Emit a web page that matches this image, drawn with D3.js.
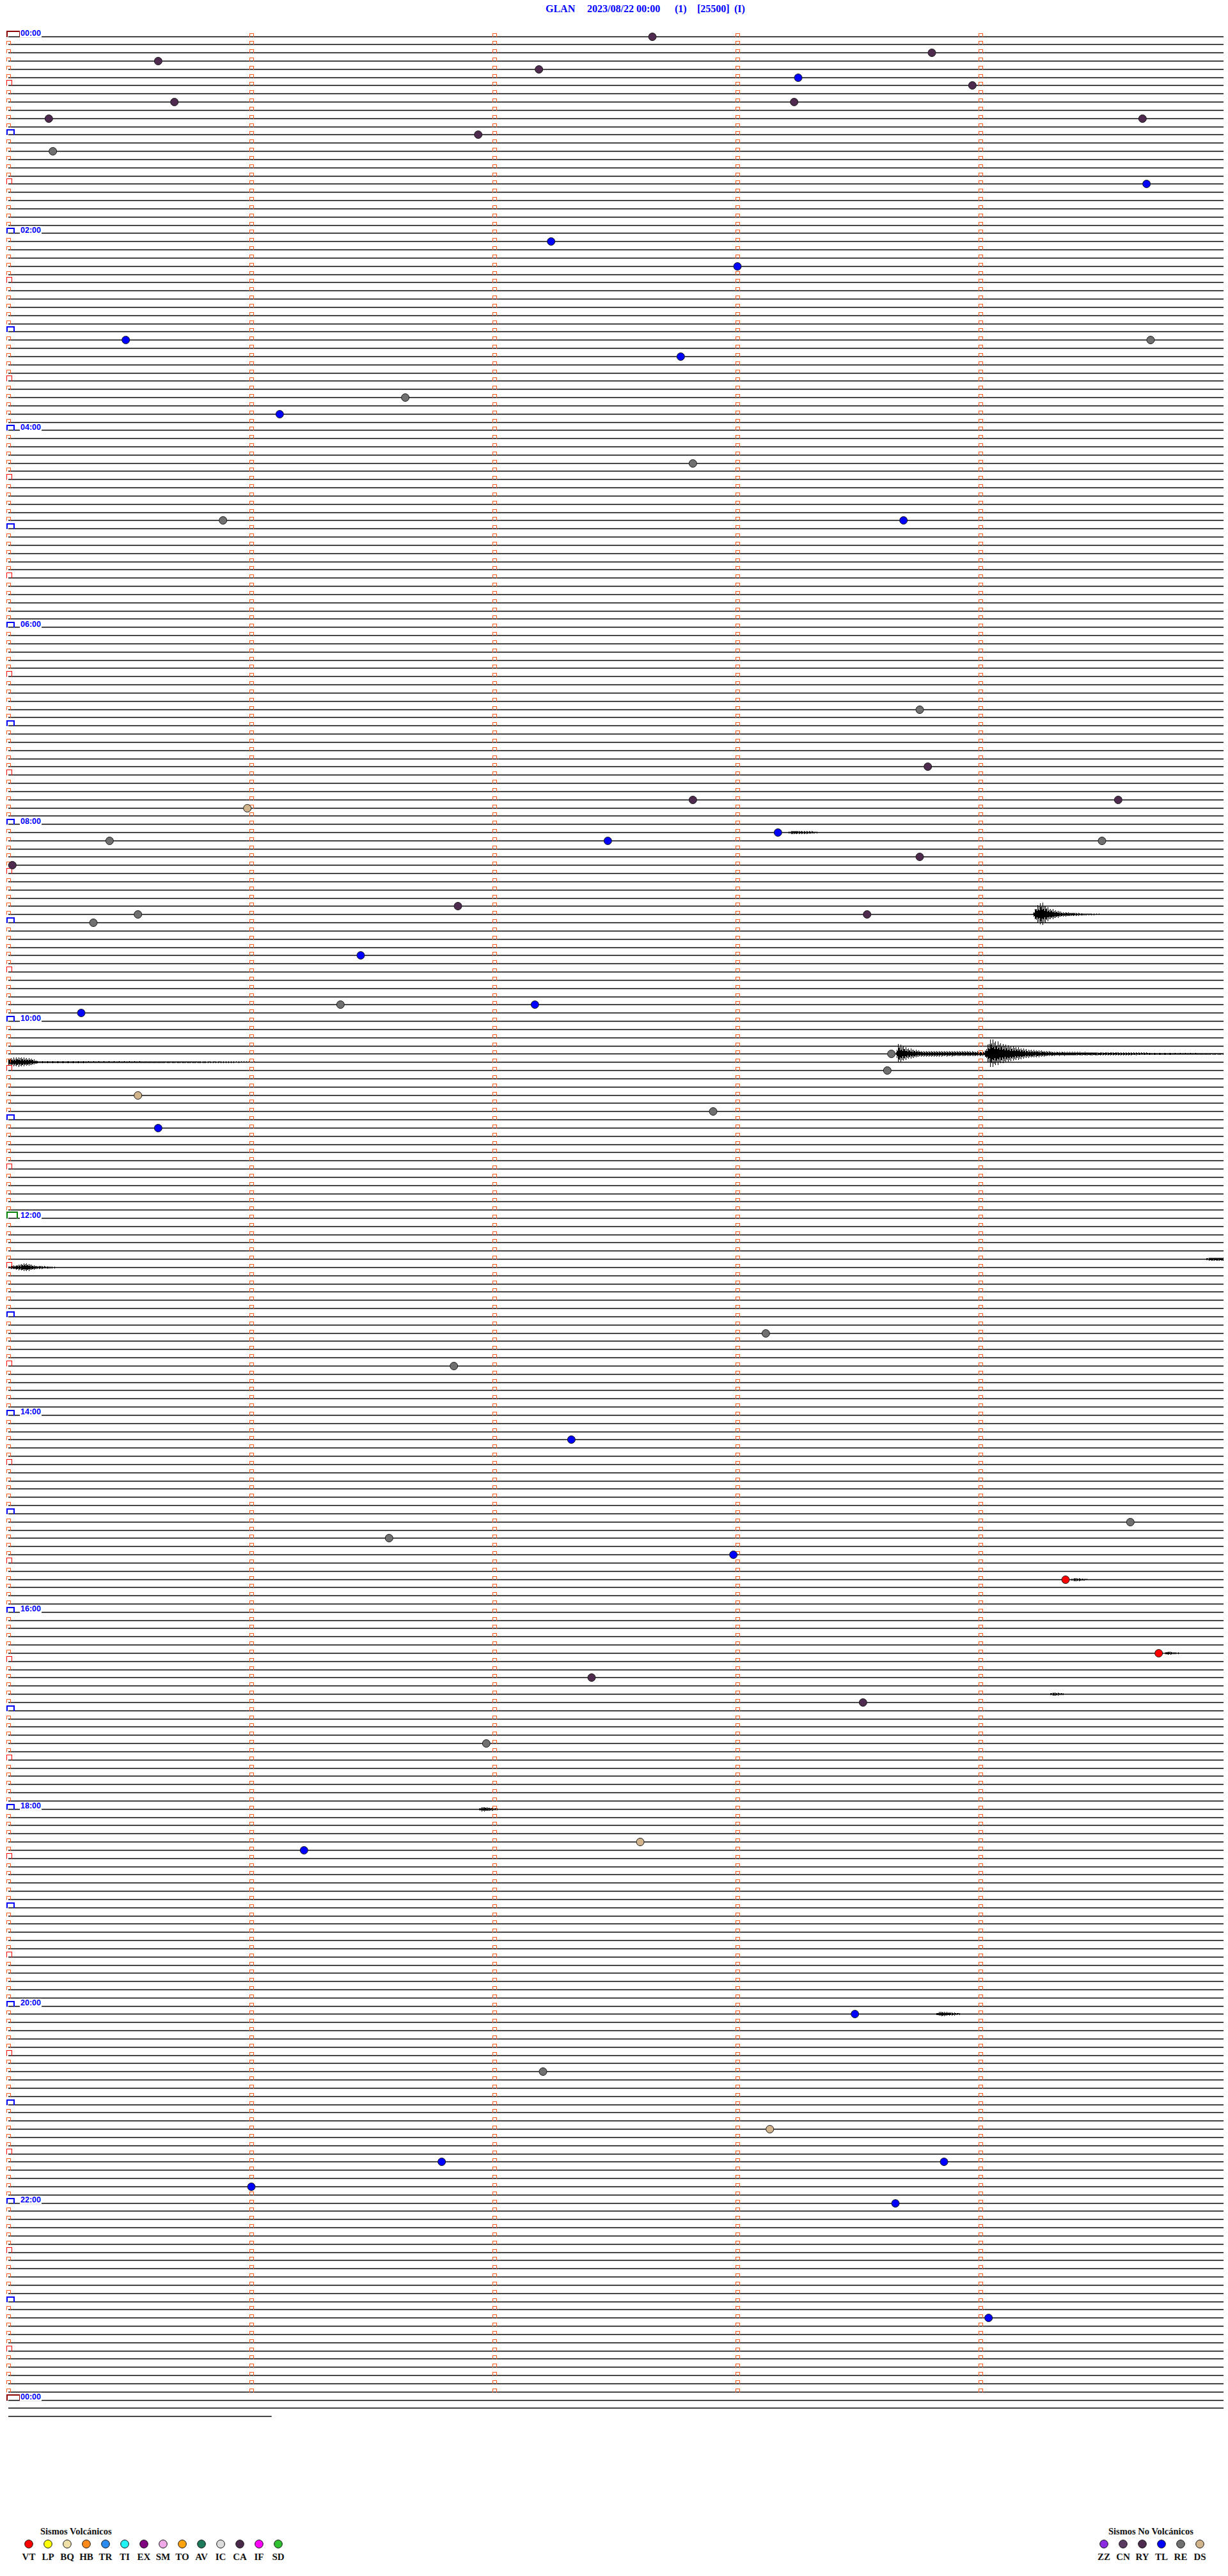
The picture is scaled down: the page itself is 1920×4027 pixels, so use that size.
<!DOCTYPE html>
<html>
<head>
<meta charset="utf-8">
<script src="https://cdn.jsdelivr.net/npm/d3@7"></script>
<style>
  body { margin: 0; background: #fff; }
  svg { display: block; }
</style>
</head>
<body>
<script>
// header
const STATION = 'GLAN';
const DATE_LABEL = '2023/08/22 00:00';
const HEADER_PARTS = ['(1)', '[25500]', '(I)'];

// helicorder: 5-minute rows over 24 h
const ROW_SECONDS = 300;
const ROWS = 288;
const hourLabels = ['00:00', '02:00', '04:00', '06:00', '08:00', '10:00', '12:00',
                    '14:00', '16:00', '18:00', '20:00', '22:00', '00:00'];

// classified events [time, type]
const events = [
  ['00:02:39', 'RY'], ['00:15:37', 'RY'], ['00:13:48', 'RY'], ['00:22:11', 'RY'],
  ['00:28:15', 'TL'], ['00:33:58', 'RY'], ['00:40:41', 'RY'], ['00:43:14', 'RY'],
  ['00:50:10', 'RY'], ['00:54:40', 'RY'], ['01:01:56', 'RY'], ['01:10:11', 'RE'],
  ['01:34:41', 'TL'], ['02:07:14', 'TL'], ['02:23:00', 'TL'], ['03:05:29', 'TL'],
  ['03:09:42', 'RE'], ['03:17:46', 'TL'], ['03:41:38', 'RE'], ['03:51:07', 'TL'],
  ['04:22:49', 'RE'], ['04:55:53', 'RE'], ['04:58:41', 'TL'], ['06:53:45', 'RE'],
  ['07:28:47', 'RY'], ['07:47:49', 'RY'], ['07:49:34', 'RY'], ['07:50:59', 'DS'],
  ['08:10:25', 'RE'], ['08:12:28', 'TL'], ['08:08:10', 'TL'], ['08:14:30', 'RE'],
  ['08:23:45', 'RY'], ['08:25:01', 'RY'], ['08:51:51', 'RY'], ['08:55:32', 'RE'],
  ['08:58:32', 'RY'], ['09:00:21', 'RE'], ['09:21:27', 'TL'], ['09:51:22', 'RE'],
  ['09:52:10', 'TL'], ['09:55:18', 'TL'], ['10:23:38', 'RE'], ['10:33:37', 'RE'],
  ['10:45:32', 'DS'], ['10:57:54', 'RE'], ['11:05:37', 'TL'], ['13:13:07', 'RE'],
  ['13:31:50', 'RE'], ['14:17:19', 'TL'], ['15:09:37', 'RE'], ['15:16:34', 'RE'],
  ['15:27:59', 'TL'], ['15:44:21', 'VT'], ['16:29:44', 'VT'], ['16:42:24', 'RY'],
  ['16:58:31', 'RY'], ['17:21:58', 'RE'], ['18:26:13', 'TL'], ['18:22:36', 'DS'],
  ['20:08:29', 'TL'], ['20:42:12', 'RE'], ['21:18:08', 'DS'], ['21:38:51', 'TL'],
  ['21:36:47', 'TL'], ['21:51:00', 'TL'], ['22:03:39', 'TL'], ['23:14:02', 'TL']
];

// wave packets: row, [seconds into row, half amplitude px]
const bursts = [
  [97,  [[192, 0], [193.5, 3], [198.5, 2], [201.5, 0]]],
  [107, [[252.8, 0], [253.6, 12], [255, 20], [256.8, 10], [260, 4], [266, 1.5], [276, 0]]],
  [124, [[219, 0], [219.6, 16], [222, 9], [225.3, 5], [241, 4], [242.4, 24], [245.4, 16],
         [251.6, 7], [258.5, 3.5], [282, 2], [300, 1.5]]],
  [125, [[0, 6], [2.5, 8], [5.4, 6], [7.4, 2], [45, 1.5], [92, 0]]],
  [149, [[294.5, 0], [296.5, 3], [300, 3]]],
  [150, [[0, 2], [1.9, 4], [4.3, 7], [6.6, 3], [12, 1], [21, 0]]],
  [188, [[261.8, 0], [263.3, 3], [266.4, 1], [268, 0]]],
  [197, [[285, 0], [286, 3], [289, 1], [291, 0]]],
  [202, [[256.5, 0], [258, 3], [261, 1], [263, 0]]],
  [216, [[115.5, 0], [117, 4], [120, 2], [122, 0]]],
  [241, [[228.5, 0], [230, 4], [234, 2], [236, 0]]]
];

// legend
const volcanicTypes  = ['VT', 'LP', 'BQ', 'HB', 'TR', 'TI', 'EX', 'SM', 'TO', 'AV', 'IC', 'CA', 'IF', 'SD'];
const volcanicColors = ['#ff0000', '#ffff00', '#efe0a8', '#ff8a1c', '#2a8cf0', '#20f4f4', '#800080',
                        '#f0a8e8', '#ffa20c', '#1c7a5a', '#dcdcdc', '#4a2a4a', '#ff00ff', '#30c030'];
const otherTypes  = ['ZZ', 'CN', 'RY', 'TL', 'RE', 'DS'];
const otherColors = ['#8a2be2', '#5a3a60', '#4e2a4e', '#0000ff', '#707070', '#d2b48c'];

const W = 1920, H = 4027;
const svg = d3.select('body').append('svg').attr('width', W).attr('height', H);
svg.append('rect').attr('width', W).attr('height', H).attr('fill', '#fff');

const x = d3.scaleLinear().domain([0, ROW_SECONDS]).range([13, 1913]);
const y = d3.scaleLinear().domain([0, ROWS]).range([51.5, 3746.5]);
const typeColor = new Map(volcanicTypes.map((t, i) => [t, volcanicColors[i]])
  .concat(otherTypes.map((t, i) => [t, otherColors[i]])));

const toSeconds = (s) => {
  const [h, m, sec] = s.split(':').map(Number);
  return h * 3600 + m * 60 + sec;
};
const base = (row) => Math.round(y(row) + 5) + 0.5;

// title
const header = svg.append('g').attr('fill', '#0000ff')
  .attr('font-family', '"Liberation Serif", "Times New Roman", serif')
  .attr('font-weight', 'bold').attr('font-size', 16);
[[STATION, 853], [DATE_LABEL, 918], [HEADER_PARTS[0], 1055], [HEADER_PARTS[1], 1090], [HEADER_PARTS[2], 1148]]
  .forEach(([t, px]) => header.append('text').attr('x', px).attr('y', 19).text(t));

// traces
const traceRows = d3.range(0, ROWS + 2).map((r) => ({ row: r, end: ROW_SECONDS }));
traceRows.push({ row: ROWS + 2, end: 65 });
const line = d3.line().x((d) => x(d[0])).y((d) => d[1]);
svg.append('g').selectAll('path').data(traceRows).enter().append('path')
  .attr('d', (d) => line([[0, base(d.row)], [d.end, base(d.row)]]))
  .attr('stroke', '#000').attr('stroke-width', 1.4).attr('fill', 'none');

// wave packets, drawn as dense vertical strokes inside the read envelope
svg.append('g').selectAll('path').data(bursts).enter().append('path')
  .attr('d', ([row, pts]) => {
    const env = d3.scaleLinear().domain(pts.map((p) => p[0])).range(pts.map((p) => p[1])).clamp(true);
    const b = base(row);
    const x0 = Math.round(x(pts[0][0])), x1 = Math.round(x(pts[pts.length - 1][0]));
    const k = [1, 0.5, 0.8, 0.35, 0.95, 0.6, 0.7, 0.4];
    let d = '';
    d3.range(x0, x1, 1).forEach((px, i) => {
      const a = Math.max(1, env(x.invert(px)) * k[i % k.length]);
      d += `M${px + 0.5},${b - a}V${b + a * 0.9}`;
    });
    return d;
  })
  .attr('fill', 'none').attr('stroke', '#000').attr('stroke-width', 1)
  .attr('shape-rendering', 'crispEdges');

// minute marks (orange brackets down each row)
const glyph = (x0, yb, w, h) => `M${x0},${yb}V${yb - h}H${x0 + w}V${yb}`;
const minuteMarks = [];
d3.range(0, ROWS).forEach((r) => [60, 120, 180, 240].forEach((s) => minuteMarks.push([r, s])));
svg.append('g').selectAll('path').data(minuteMarks).enter().append('path')
  .attr('d', ([r, s]) => glyph(Math.round(x(s)) - 2.5, Math.round(y(r)) + 5.5, 6, 5))
  .attr('fill', 'none').attr('stroke', '#ff5a1e').attr('stroke-width', 1)
  .attr('shape-rendering', 'crispEdges');

// row start marks on the left
const rowMark = (r) => {
  if (r === 0 || r === ROWS) return { c: '#8b0000', w: 20, h: 9, sw: 2 };
  if (r === ROWS / 2) return { c: '#008000', w: 16, h: 10, sw: 2 };
  if (r % 12 === 0) return { c: '#0000ff', w: 11, h: 8, sw: 2 };
  if (r % 6 === 0) return { c: '#ff0000', w: 8, h: 8, sw: 1.2 };
  return { c: '#ff5a1e', w: 5.5, h: 5, sw: 1 };
};
svg.append('g').selectAll('path').data(d3.range(0, ROWS + 1)).enter().append('path')
  .attr('d', (r) => { const m = rowMark(r); return glyph(10.5, Math.round(y(r)) + 5.5, m.w, m.h); })
  .attr('fill', 'none')
  .attr('stroke', (r) => rowMark(r).c)
  .attr('stroke-width', (r) => rowMark(r).sw)
  .attr('shape-rendering', 'crispEdges');

// hour labels every 2 h
const labels = svg.append('g').selectAll('g').data(hourLabels).enter().append('g')
  .attr('transform', (d, i) => `translate(0,${y(i * 24)})`);
labels.append('rect').attr('x', 31).attr('y', -6).attr('width', 34).attr('height', 13).attr('fill', '#fff');
labels.append('text').attr('x', 32).attr('y', 4.5)
  .attr('font-family', '"Liberation Sans", Arial, sans-serif').attr('font-weight', 'bold')
  .attr('font-size', 12.5).attr('fill', '#0000ff').text((d) => d);

// event dots
svg.append('g').selectAll('circle').data(events).enter().append('circle')
  .attr('cx', (d) => x(toSeconds(d[0]) % ROW_SECONDS))
  .attr('cy', (d) => base(Math.floor(toSeconds(d[0]) / ROW_SECONDS)))
  .attr('r', 6)
  .attr('fill', (d) => typeColor.get(d[1]))
  .attr('stroke', '#1a1a1a').attr('stroke-width', 1);

// legends
function legend(title, types, colors, x0, titleX) {
  const g = svg.append('g')
    .attr('font-family', '"Liberation Serif", "Times New Roman", serif')
    .attr('font-weight', 'bold');
  g.append('text').attr('x', titleX).attr('y', 3962).attr('font-size', 14.5).attr('fill', '#111').text(title);
  const item = g.selectAll('g.item').data(types).enter().append('g').attr('class', 'item')
    .attr('transform', (d, i) => `translate(${x0 + i * 30},0)`);
  item.append('circle').attr('cy', 3977).attr('r', 6.3)
    .attr('fill', (d, i) => colors[i]).attr('stroke', '#111').attr('stroke-width', 1);
  item.append('text').attr('y', 4002).attr('text-anchor', 'middle').attr('font-size', 15)
    .attr('fill', '#111').text((d) => d);
}
legend('Sismos Volcánicos', volcanicTypes, volcanicColors, 45, 63);
legend('Sismos No Volcánicos', otherTypes, otherColors, 1726, 1733);
</script>
</body>
</html>
